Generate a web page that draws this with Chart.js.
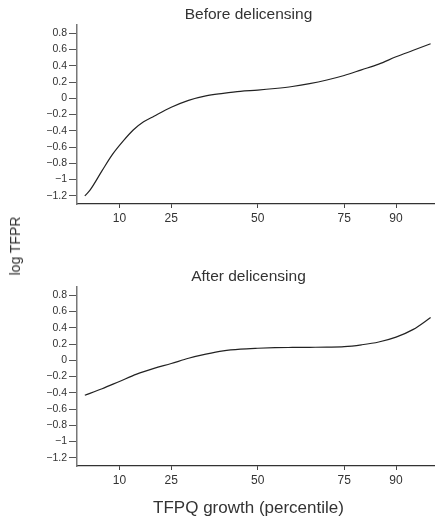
<!DOCTYPE html>
<html>
<head>
<meta charset="utf-8">
<script src="https://cdn.jsdelivr.net/npm/chart.js@4.4.1/dist/chart.umd.min.js"></script>
<style>
  html, body { margin: 0; padding: 0; background: #fff; overflow: hidden; }
  #wrap { position: relative; width: 435px; height: 526px; overflow: hidden; }
  #wrap canvas { position: absolute; left: 0; }
  #cvBefore { top: 0; }
  #cvAfter { top: 262px; }
  #ytitle {
    position: absolute; left: 15px; top: 246px;
    transform: translate(-50%, -50%) rotate(-90deg);
    font: 14px "Liberation Sans", Arial, sans-serif; color: #333; white-space: nowrap;
  }
</style>
</head>
<body>
<div id="wrap">
  <canvas id="cvBefore" width="497" height="235"></canvas>
  <canvas id="cvAfter" width="497" height="264"></canvas>
  <div id="ytitle">log TFPR</div>
</div>
<script>
// smoothed log TFPR by TFPQ growth percentile
const BEFORE_PCT  = [0, 1.5, 5, 8, 11, 14, 17, 20, 25, 30, 35, 40, 45, 50, 55, 60, 65, 70, 75, 80, 85, 90, 95, 100];
const BEFORE_TFPR = [-1.20, -1.13, -0.89, -0.69, -0.53, -0.39, -0.29, -0.22, -0.11, -0.025, 0.03, 0.06, 0.085, 0.10, 0.12, 0.145, 0.18, 0.225, 0.28, 0.35, 0.42, 0.51, 0.59, 0.67];

const AFTER_PCT  = [0, 5, 10, 15, 20, 25, 30, 35, 40, 45, 50, 55, 60, 65, 70, 75, 80, 85, 90, 95, 100];
const AFTER_TFPR = [-0.43, -0.35, -0.26, -0.17, -0.10, -0.04, 0.025, 0.075, 0.115, 0.137, 0.148, 0.155, 0.158, 0.16, 0.162, 0.167, 0.19, 0.225, 0.285, 0.38, 0.525];

const X_TICKS = [10, 25, 50, 75, 90];
const Y_TICKS = [-1.2, -1, -0.8, -0.6, -0.4, -0.2, 0, 0.2, 0.4, 0.6, 0.8];

const FONT = '"Liberation Sans", Arial, sans-serif';
const INK = '#333';

function fmtY(v) {
  if (v === 0) return '0';
  return String(+v.toFixed(1)).replace('-', '\u2212');
}

function makePanel(canvasId, title, pct, vals, xTitle) {
  const ctx = document.getElementById(canvasId);
  const plugins = {
    legend: { display: false },
    tooltip: { enabled: false },
    title: {
      display: true,
      text: title,
      color: INK,
      font: { family: FONT, size: 15.5, weight: 'normal' },
      padding: { top: 5, bottom: 1.5 }
    }
  };
  if (xTitle) {
    plugins.subtitle = {
      display: true,
      position: 'bottom',
      text: xTitle,
      color: INK,
      font: { family: FONT, size: 17, weight: 'normal' },
      padding: { top: 0.8, bottom: 7.8 }
    };
  }
  return new Chart(ctx, {
    type: 'line',
    data: {
      datasets: [{
        data: pct.map((p, i) => ({ x: p, y: vals[i] })),
        borderColor: '#222',
        borderWidth: 1.2,
        pointRadius: 0,
        cubicInterpolationMode: 'monotone',
        fill: false
      }]
    },
    options: {
      responsive: false,
      animation: false,
      layout: { padding: 0 },
      plugins,
      scales: {
        x: {
          type: 'linear',
          min: -2.26,
          max: 119.2,
          afterBuildTicks: s => { s.ticks = X_TICKS.map(v => ({ value: v })); },
          afterFit: s => { s.height = 31; },
          ticks: { autoSkip: false, maxRotation: 0, padding: 3, color: INK, font: { family: FONT, size: 12 } },
          grid: { drawOnChartArea: false, drawTicks: true, tickLength: 4, color: '#444' },
          border: { display: true, color: '#333', width: 1.2 }
        },
        y: {
          min: -1.3,
          max: 0.9,
          afterBuildTicks: s => { s.ticks = Y_TICKS.map(v => ({ value: v })); },
          afterFit: s => { s.width = 77; },
          ticks: { autoSkip: false, padding: 2, color: INK, font: { family: FONT, size: 10.5 }, callback: fmtY },
          grid: { drawOnChartArea: false, drawTicks: true, tickLength: 8, color: '#555' },
          border: { display: true, color: '#777', width: 1.5 }
        }
      }
    }
  });
}

makePanel('cvBefore', 'Before delicensing', BEFORE_PCT, BEFORE_TFPR);
makePanel('cvAfter', 'After delicensing', AFTER_PCT, AFTER_TFPR, 'TFPQ growth (percentile)');
</script>
</body>
</html>
